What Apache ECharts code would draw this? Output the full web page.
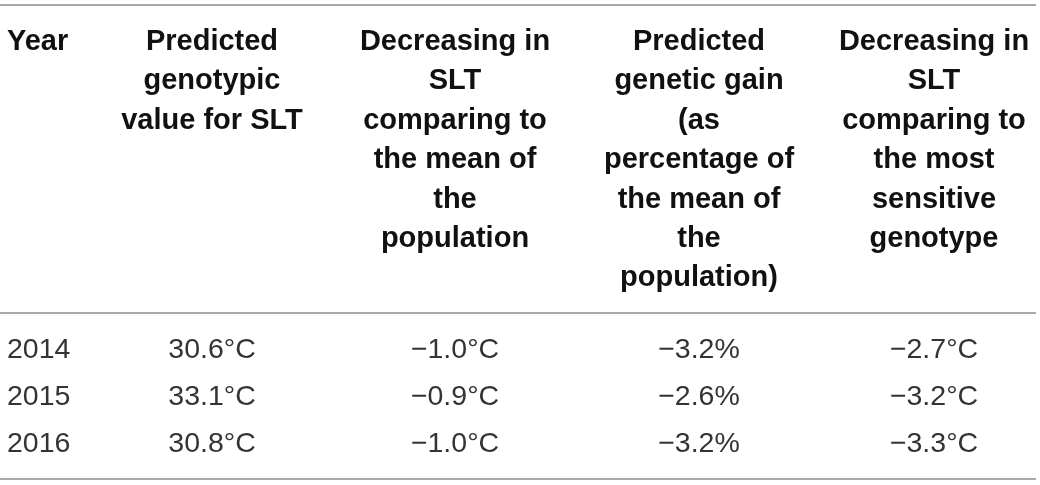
<!DOCTYPE html>
<html>
<head>
<meta charset="utf-8">
<script src="https://cdn.jsdelivr.net/npm/echarts@6/dist/echarts.min.js"></script>
<style>
  html, body { margin: 0; padding: 0; background: #fff; }
  #table { width: 1040px; height: 485px; }
</style>
</head>
<body>
<div id="table"></div>
<script>
    // table content
    var headers = [
        ['Year'],
        ['Predicted', 'genotypic', 'value for SLT'],
        ['Decreasing in', 'SLT', 'comparing to', 'the mean of', 'the', 'population'],
        ['Predicted', 'genetic gain', '(as', 'percentage of', 'the mean of', 'the', 'population)'],
        ['Decreasing in', 'SLT', 'comparing to', 'the most', 'sensitive', 'genotype']
    ];
    var years = ['2014', '2015', '2016'];
    var genotypicValue = ['30.6°C', '33.1°C', '30.8°C'];
    var decreaseVsMean = ['\u22121.0°C', '\u22120.9°C', '\u22121.0°C'];
    var geneticGain = ['\u22123.2%', '\u22122.6%', '\u22123.2%'];
    var decreaseVsSensitive = ['\u22122.7°C', '\u22123.2°C', '\u22123.3°C'];

    var columns = [years, genotypicValue, decreaseVsMean, geneticGain, decreaseVsSensitive];

    // layout
    var colX = [7, 212, 455, 699, 934];
    var headTop = 42, headStep = 39.4;
    var rowTop = 350, rowStep = 47;
    var ruleY = [5, 313, 479];
    var font = '"Liberation Sans", Arial, Helvetica, sans-serif';

    var chart = echarts.init(document.getElementById('table'));
    var elements = [];

    ruleY.forEach(function (y) {
        elements.push({
            type: 'line',
            shape: {x1: 0, y1: y, x2: 1036, y2: y},
            style: {stroke: '#8c8c8c', lineWidth: 1.5}
        });
    });

    headers.forEach(function (lines, c) {
        lines.forEach(function (txt, i) {
            elements.push({
                type: 'text',
                x: colX[c],
                y: headTop + i * headStep,
                style: {
                    text: txt,
                    font: 'bold 29px ' + font,
                    fill: '#111',
                    align: c === 0 ? 'left' : 'center',
                    verticalAlign: 'middle'
                }
            });
        });
    });

    columns.forEach(function (vals, c) {
        vals.forEach(function (txt, r) {
            elements.push({
                type: 'text',
                x: colX[c],
                y: rowTop + r * rowStep,
                style: {
                    text: txt,
                    font: '28.5px ' + font,
                    fill: '#333',
                    align: c === 0 ? 'left' : 'center',
                    verticalAlign: 'middle'
                }
            });
        });
    });

    chart.setOption({
        backgroundColor: '#fff',
        animation: false,
        graphic: {elements: elements}
    });
</script>
</body>
</html>
